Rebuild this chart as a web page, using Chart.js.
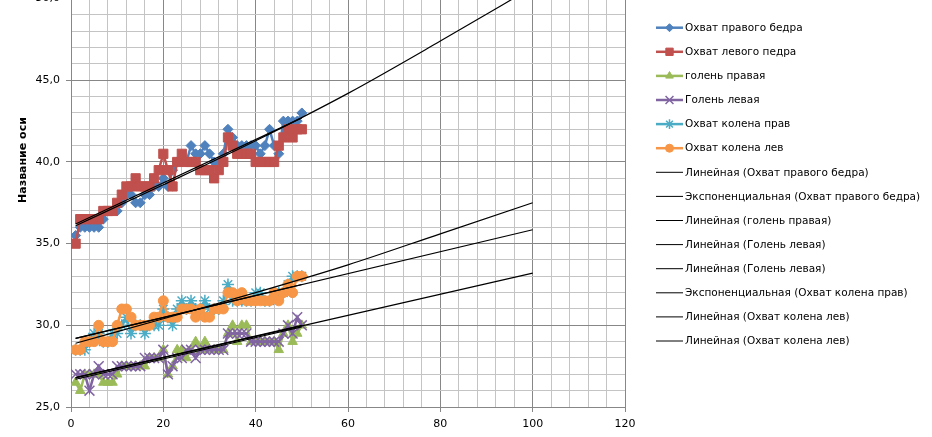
<!DOCTYPE html>
<html>
<head>
<meta charset="utf-8">
<script src="https://cdn.jsdelivr.net/npm/chart.js@4.4.1/dist/chart.umd.min.js"></script>
<style>
  html, body { margin: 0; padding: 0; background: #fff; overflow: hidden; width: 932px; height: 437px; }
  #wrap { position: absolute; left: 0; top: -14px; width: 932px; height: 451px; }
</style>
</head>
<body>
<div id="wrap"><canvas id="chart"></canvas></div>
<script>
// measurement number (x axis)
const xValues = [1, 2, 3, 4, 5, 6, 7, 8, 9, 10, 11, 12, 13, 14, 15, 16, 17, 18, 19, 20,
  21, 22, 23, 24, 25, 26, 27, 28, 29, 30, 31, 32, 33, 34, 35, 36, 37, 38, 39, 40,
  41, 42, 43, 44, 45, 46, 47, 48, 49, 50];

const rightThigh = [35.5, 36, 36, 36, 36, 36, 36.5, 37, 37, 37, 37.5, 38, 38, 37.5, 37.5, 38, 38, 38.5, 38.5, 39,
  38.5, 39.5, 40, 40, 40, 41, 40.5, 40.5, 41, 40.5, 40, 40, 40.5, 42, 41.5, 41, 41, 41, 41, 41,
  40.5, 41, 42, 41, 40.5, 42.5, 42.5, 42.5, 42.5, 43];
const leftThigh = [35, 36.5, 36.5, 36.5, 36.5, 36.5, 37, 37, 37, 37.5, 38, 38.5, 38.5, 39, 38.5, 38.5, 38.5, 39, 39.5, 40.5,
  39.5, 38.5, 40, 40.5, 40, 40, 40, 39.5, 39.5, 39.5, 39, 39.5, 40, 41.5, 41, 40.5, 40.5, 40.5, 40.5, 40,
  40, 40, 40, 40, 41, 41.5, 42, 41.5, 42, 42];
const shinRight = [26.5, 26, 27, 27, 27, 27, 26.5, 26.5, 26.5, 27, 27.5, 27.5, 27.5, 27.5, 27.5, 27.5, 28, 28, 28, 28.5,
  27, 27.5, 28.5, 28.5, 28, 28.5, 29, 28.5, 29, 28.5, 28.5, 28.5, 28.5, 29.5, 30, 29, 30, 30, 29, 29,
  29, 29, 29, 29, 28.5, 29.5, 30, 29, 29.5, 30];
const shinLeft = [27, 27, 27, 26, 27, 27.5, 27, 27, 27, 27.5, 27.5, 27.5, 27.5, 27.5, 27.5, 28, 28, 28, 28, 28.5,
  27, 27.5, 28, 28, 28.5, 28.5, 28, 28.5, 28.5, 28.5, 28.5, 28.5, 28.5, 29.5, 29.5, 29.5, 29.5, 29.5, 29, 29,
  29, 29, 29, 29, 29, 29.5, 30, 29.5, 30.5, 30];
const kneeRight = [28.5, 28.5, 28.5, 29, 29.5, 29.5, 29, 29, 29.5, 29.5, 30, 30.5, 29.5, 30, 30, 29.5, 30, 30, 30, 31,
  30.5, 30, 31, 31.5, 31, 31.5, 31, 31, 31.5, 31, 31, 31, 31.5, 32.5, 31.5, 31.5, 31.5, 31.5, 31.5, 32,
  32, 31.5, 31.5, 32, 32, 32, 32.5, 33, 33, 33];
const kneeLeft = [28.5, 28.5, 29, 29, 29, 30, 29, 29, 29, 30, 31, 31, 30.5, 30, 30, 30, 30, 30.5, 30.5, 31.5,
  30.5, 30.5, 30.5, 31, 31, 31, 30.5, 31, 30.5, 30.5, 31, 31, 31, 32, 32, 31.5, 32, 31.5, 31.5, 31.5,
  31.5, 31.5, 31.5, 32, 31.5, 32, 32.5, 32, 33, 33];

// trend lines
const trendXShort = [1, 50];
const trendXLong = [1, 100];
const trendXCurve = [1, 20, 40, 60, 80, 100];
const thighLinTrend = [36.2, 42.7];
const thighExpTrend = [36.1, 38.6, 41.3, 44.2, 47.4, 50.7];
const shinRightLinTrend = [26.7, 29.9];
const shinLeftLinTrend = [26.8, 30.0];
const shinLeftLinForecast = [26.8, 33.2];
const kneeRightExpTrend = [28.9, 30.4, 32.0, 33.7, 35.6, 37.5];
const kneeLeftLinTrend = [29.2, 32.5];
const kneeLeftLinForecast = [29.2, 35.85];

const xTickLabels = ['0', '20', '40', '60', '80', '100', '120'];
const yTickLabels = ['25,0', '30,0', '35,0', '40,0', '45,0', '50,0'];
const yTitle = 'Название оси';

const FONT = '"DejaVu Sans", Verdana, sans-serif';
const SHIFT = 14; // canvas sits 14px above the page top

function pts(xs, ys) {
  return xs.map((x, i) => ({ x: x, y: ys[i] }));
}

function series(label, ys, color, style, radius, order) {
  return {
    label: label,
    data: pts(xValues, ys),
    showLine: true,
    borderColor: color,
    backgroundColor: color,
    borderWidth: 2.5,
    pointStyle: style,
    pointRadius: radius,
    pointBorderWidth: (style === 'crossRot' || style === 'star') ? 1.5 : 1,
    pointBorderColor: color,
    pointBackgroundColor: color,
    order: order
  };
}

function trend(label, xs, ys) {
  return {
    label: label,
    data: pts(xs, ys),
    showLine: true,
    borderColor: '#000',
    backgroundColor: '#000',
    borderWidth: 1.2,
    pointRadius: 0,
    cubicInterpolationMode: 'monotone',
    isTrend: true,
    order: 0
  };
}

const datasets = [
  series('Охват правого бедра', rightThigh, '#4F81BD', 'rectRot', 5, 6),
  series('Охват левого педра', leftThigh, '#C0504D', 'rect', 6.5, 5),
  series('голень правая', shinRight, '#9BBB59', 'triangle', 5.5, 4),
  series('Голень левая', shinLeft, '#8064A2', 'crossRot', 7, 3),
  series('Охват колена прав', kneeRight, '#4BACC6', 'star', 6, 2),
  series('Охват колена лев', kneeLeft, '#F79646', 'circle', 5, 1),
  trend('Линейная (Охват правого бедра)', trendXShort, thighLinTrend),
  trend('Экспоненциальная (Охват правого бедра)', trendXCurve, thighExpTrend),
  trend('Линейная (голень правая)', trendXShort, shinRightLinTrend),
  trend('Линейная (Голень левая)', trendXShort, shinLeftLinTrend),
  trend('Линейная (Голень левая)', trendXLong, shinLeftLinForecast),
  trend('Экспоненциальная (Охват колена прав)', trendXCurve, kneeRightExpTrend),
  trend('Линейная (Охват колена лев)', trendXShort, kneeLeftLinTrend),
  trend('Линейная (Охват колена лев)', trendXLong, kneeLeftLinForecast)
];

// Excel-like legend on the right + rotated axis title
const sideLegend = {
  id: 'sideLegend',
  afterDraw(chart) {
    const ctx = chart.ctx;
    ctx.save();
    ctx.font = '10.5px ' + FONT;
    ctx.textBaseline = 'middle';
    chart.data.datasets.forEach((ds, i) => {
      const y = 27.7 + i * 24.1 + SHIFT;
      ctx.strokeStyle = ds.borderColor;
      ctx.lineWidth = ds.isTrend ? 1 : 2.5;
      ctx.beginPath();
      ctx.moveTo(656, y);
      ctx.lineTo(683, y);
      ctx.stroke();
      if (!ds.isTrend) {
        ctx.fillStyle = ds.backgroundColor;
        ctx.lineWidth = ds.pointBorderWidth;
        Chart.helpers.drawPoint(ctx, {
          pointStyle: ds.pointStyle,
          radius: ds.pointRadius * 0.8,
          rotation: 0,
          borderWidth: ds.pointBorderWidth
        }, 669.5, y);
      }
      ctx.fillStyle = '#000';
      ctx.textAlign = 'left';
      ctx.fillText(ds.label, 685, y + 0.5);
    });

    ctx.translate(23, 160 + SHIFT);
    ctx.rotate(-Math.PI / 2);
    ctx.font = 'bold 11px ' + FONT;
    ctx.textAlign = 'center';
    ctx.fillStyle = '#000';
    ctx.fillText(yTitle, 0, 0);
    ctx.restore();
  }
};

const majorGrid = '#878787';
const minorGrid = '#c4c4c4';

new Chart(document.getElementById('chart'), {
  type: 'scatter',
  data: { datasets: datasets },
  options: {
    responsive: true,
    maintainAspectRatio: false,
    animation: false,
    layout: { padding: { left: 0, right: 307, top: 0, bottom: 0 } },
    plugins: {
      legend: { display: false },
      tooltip: { enabled: false }
    },
    scales: {
      x: {
        type: 'linear',
        min: 0,
        max: 120,
        afterFit: s => { s.height = 30; },
        ticks: {
          stepSize: 4,
          autoSkip: false,
          maxRotation: 0,
          padding: 6,
          color: '#000',
          font: { family: FONT, size: 11 },
          callback: v => (v % 20 === 0 ? xTickLabels[v / 20] : '')
        },
        grid: {
          color: c => (c.tick && c.tick.value % 20 === 0 ? majorGrid : minorGrid),
          tickColor: c => (c.tick && c.tick.value % 20 === 0 ? majorGrid : 'rgba(0,0,0,0)'),
          tickLength: 5,
          lineWidth: 1
        },
        border: { color: majorGrid }
      },
      y: {
        min: 25,
        max: 50,
        afterFit: s => { s.width = 71; },
        ticks: {
          stepSize: 1,
          autoSkip: false,
          padding: 6,
          color: '#000',
          font: { family: FONT, size: 11 },
          callback: v => (v % 5 === 0 ? yTickLabels[(v - 25) / 5] : '')
        },
        grid: {
          color: c => (c.tick && c.tick.value % 5 === 0 ? majorGrid : minorGrid),
          tickColor: c => (c.tick && c.tick.value % 5 === 0 ? majorGrid : 'rgba(0,0,0,0)'),
          tickLength: 5,
          lineWidth: 1
        },
        border: { color: majorGrid }
      }
    }
  },
  plugins: [sideLegend]
});
</script>
</body>
</html>
